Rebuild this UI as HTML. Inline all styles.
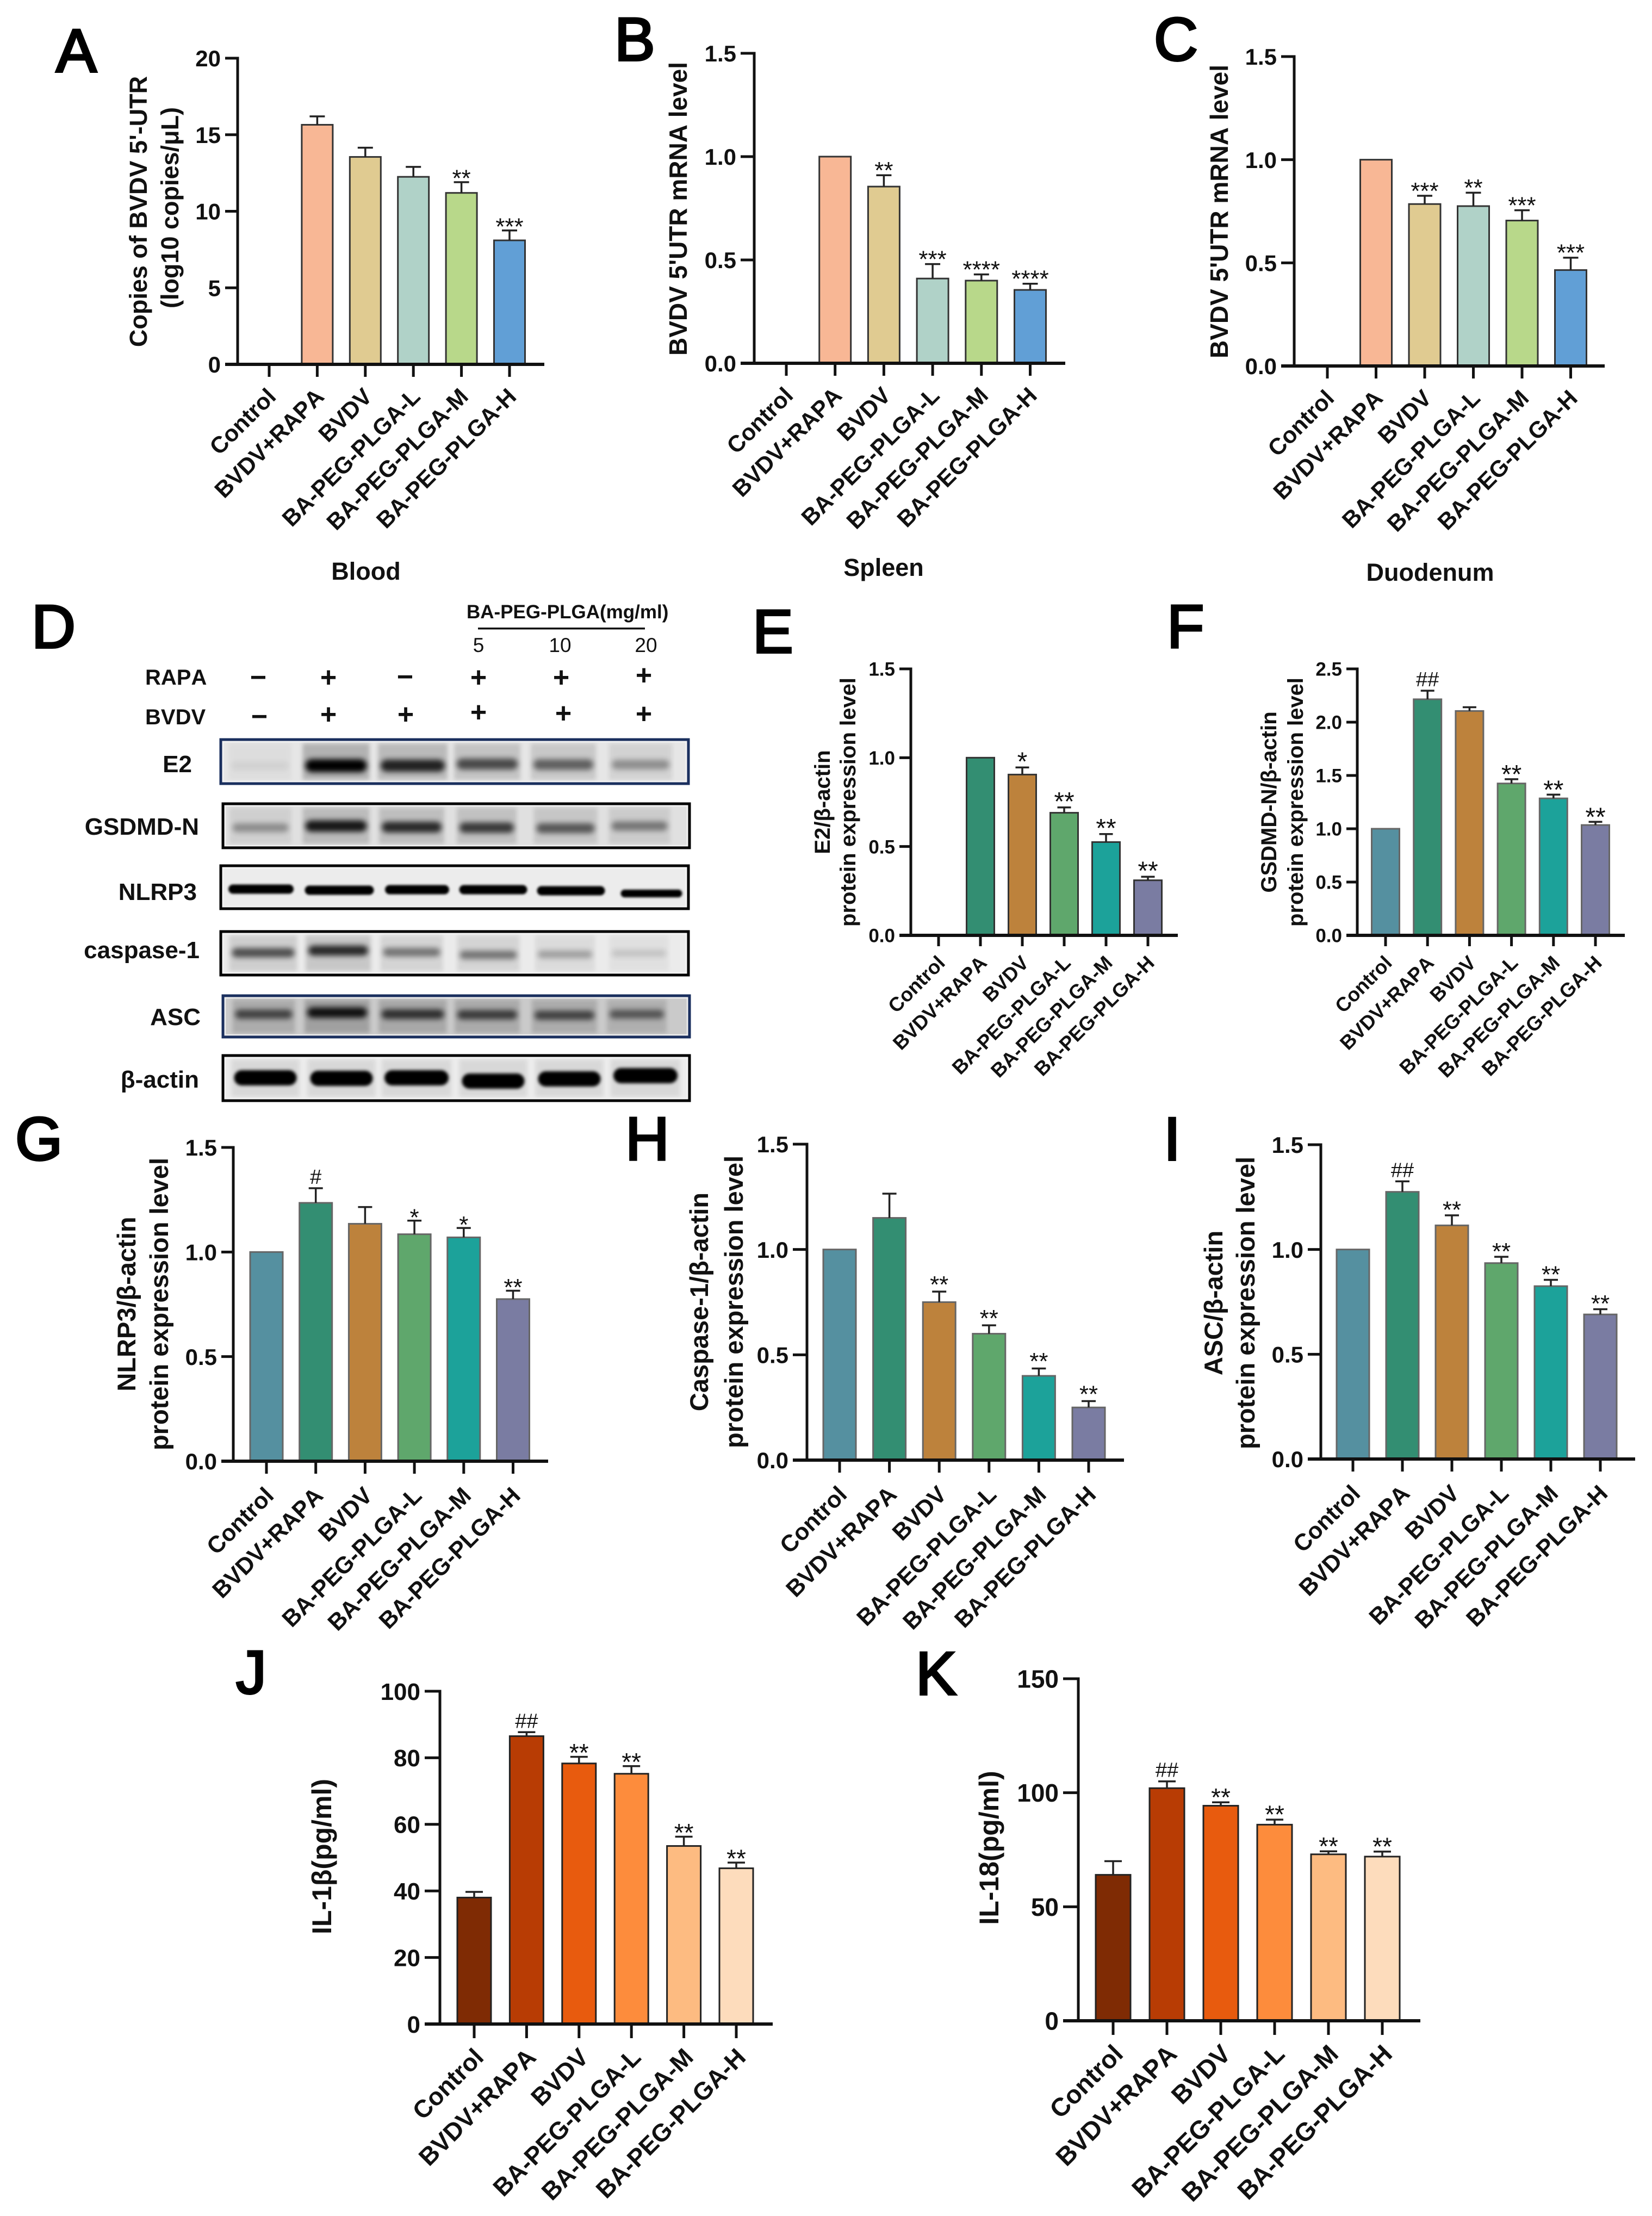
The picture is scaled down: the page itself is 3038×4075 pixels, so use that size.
<!DOCTYPE html>
<html lang="en">
<head>
<meta charset="utf-8">
<title>BA-PEG-PLGA figure panels A-K</title>
<style>
html,body{margin:0;padding:0;background:#fff;}
svg{display:block;}
text{font-family:"Liberation Sans",sans-serif;fill:#111;font-kerning:none;}
.letter{font-size:112px;stroke:#000;stroke-width:4px;fill:#000;}
.ytitle{font-weight:bold;text-anchor:middle;}
.xtitle{font-weight:bold;text-anchor:middle;font-size:45px;}
.blotlabel{font-weight:bold;font-size:44px;text-anchor:end;}
.rowlabel{font-weight:bold;font-size:40px;}
.dose{font-size:37px;text-anchor:middle;}
.sign{font-size:52px;font-weight:bold;text-anchor:middle;}
</style>
</head>
<body>
<svg id="figure" xmlns="http://www.w3.org/2000/svg" width="3038" height="4075" viewBox="0 0 3038 4075">
<defs>
<filter id="b2" x="-20%" y="-150%" width="140%" height="400%"><feGaussianBlur stdDeviation="2"/></filter>
<filter id="b3" x="-20%" y="-150%" width="140%" height="400%"><feGaussianBlur stdDeviation="3"/></filter>
<filter id="b5" x="-20%" y="-150%" width="140%" height="400%"><feGaussianBlur stdDeviation="5"/></filter>
<filter id="soft" x="-20%" y="-20%" width="140%" height="140%"><feGaussianBlur stdDeviation="4"/></filter>
</defs>
<rect width="3038" height="4075" fill="#fff"/>

<g>
<text class="letter" x="103" y="132">A</text>
<text class="letter" x="1130" y="111">B</text>
<text class="letter" x="2122" y="111">C</text>
<text class="letter" x="58" y="1191">D</text>
<text class="letter" x="1384" y="1200">E</text>
<text class="letter" x="2146" y="1191">F</text>
<text class="letter" x="28" y="2133">G</text>
<text class="letter" x="1150" y="2133">H</text>
<text class="letter" x="2140" y="2133">I</text>
<text class="letter" x="434" y="3114">J</text>
<text class="letter" x="1684" y="3116">K</text>
</g>

<g>
<text class="ytitle" font-size="45" transform="translate(270,389) rotate(-90)">Copies of BVDV 5'-UTR</text>
<text class="ytitle" font-size="45" transform="translate(328,382) rotate(-90)">(log10 copies/μL)</text>
<text class="ytitle" font-size="46" transform="translate(1263,384) rotate(-90)">BVDV 5'UTR mRNA level</text>
<text class="ytitle" font-size="46" transform="translate(2258,389) rotate(-90)">BVDV 5'UTR mRNA level</text>
<text class="ytitle" font-size="40" transform="translate(1526,1475) rotate(-90)">E2/β-actin</text>
<text class="ytitle" font-size="40" transform="translate(1573,1475) rotate(-90)">protein expression level</text>
<text class="ytitle" font-size="40" transform="translate(2347,1475) rotate(-90)">GSDMD-N/β-actin</text>
<text class="ytitle" font-size="40" transform="translate(2396,1475) rotate(-90)">protein expression level</text>
<text class="ytitle" font-size="47" transform="translate(249,2398) rotate(-90)">NLRP3/β-actin</text>
<text class="ytitle" font-size="47" transform="translate(309,2398) rotate(-90)">protein expression level</text>
<text class="ytitle" font-size="47" transform="translate(1302,2394) rotate(-90)">Caspase-1/β-actin</text>
<text class="ytitle" font-size="47" transform="translate(1366,2394) rotate(-90)">protein expression level</text>
<text class="ytitle" font-size="47" transform="translate(2248,2396) rotate(-90)">ASC/β-actin</text>
<text class="ytitle" font-size="47" transform="translate(2307,2396) rotate(-90)">protein expression level</text>
<text class="ytitle" font-size="50" transform="translate(609,3414) rotate(-90)">IL-1β(pg/ml)</text>
<text class="ytitle" font-size="50" transform="translate(1836,3398) rotate(-90)">IL-18(pg/ml)</text>
</g>

<g>
<text class="xtitle" x="673" y="1066">Blood</text>
<text class="xtitle" x="1625" y="1059">Spleen</text>
<text class="xtitle" x="2630" y="1068">Duodenum</text>
</g>

<g>
<text x="858" y="1137" font-size="35" font-weight="bold">BA-PEG-PLGA(mg/ml)</text>
<rect x="879" y="1154" width="307" height="3.5" fill="#111"/>
<text class="dose" x="880" y="1199">5</text>
<text class="dose" x="1030" y="1199">10</text>
<text class="dose" x="1188" y="1199">20</text>
<text class="rowlabel" x="267" y="1259">RAPA</text>
<text class="rowlabel" x="267" y="1332">BVDV</text>
<text class="sign" x="475" y="1263">−</text>
<text class="sign" x="604" y="1263">+</text>
<text class="sign" x="745" y="1262">−</text>
<text class="sign" x="880" y="1263">+</text>
<text class="sign" x="1032" y="1263">+</text>
<text class="sign" x="1184" y="1259">+</text>
<text class="sign" x="477" y="1335">−</text>
<text class="sign" x="604" y="1331">+</text>
<text class="sign" x="746" y="1331">+</text>
<text class="sign" x="880" y="1327">+</text>
<text class="sign" x="1036" y="1329">+</text>
<text class="sign" x="1184" y="1330">+</text>
</g>

<g>
<text class="blotlabel" x="353" y="1420">E2</text>
<text class="blotlabel" x="366" y="1535">GSDMD-N</text>
<text class="blotlabel" x="362" y="1655">NLRP3</text>
<text class="blotlabel" x="367" y="1762">caspase-1</text>
<text class="blotlabel" x="369" y="1885">ASC</text>
<text class="blotlabel" x="366" y="2000">β-actin</text>
</g>

<g id="blots"></g>
<g id="charts"></g>
</svg>

<script>
// ---------- chart data ----------
const categories = ['Control','BVDV+RAPA','BVDV','BA-PEG-PLGA-L','BA-PEG-PLGA-M','BA-PEG-PLGA-H'];

const valuesA = [null,15.65,13.55,12.25,11.2,8.1];
const errorsA = [0,0.55,0.6,0.65,0.7,0.65];
const notesA  = ['','','','','**','***'];
const ticksA  = ['0','5','10','15','20'];

const valuesB = [null,1,0.855,0.41,0.40,0.355];
const errorsB = [0,0,0.055,0.07,0.03,0.03];
const notesB  = ['','','**','***','****','****'];
const ticksB  = ['0.0','0.5','1.0','1.5'];

const valuesC = [null,1,0.785,0.775,0.705,0.465];
const errorsC = [0,0,0.04,0.065,0.05,0.06];
const notesC  = ['','','***','**','***','***'];
const ticksC  = ['0.0','0.5','1.0','1.5'];

const valuesE = [null,1,0.905,0.69,0.525,0.31];
const errorsE = [0,0,0.04,0.03,0.045,0.02];
const notesE  = ['','','*','**','**','**'];
const ticksE  = ['0.0','0.5','1.0','1.5'];

const valuesF = [1,2.215,2.105,1.425,1.285,1.035];
const errorsF = [0,0.08,0.035,0.04,0.035,0.03];
const notesF  = ['','##','','**','**','**'];
const ticksF  = ['0.0','0.5','1.0','1.5','2.0','2.5'];

const valuesG = [1,1.235,1.135,1.085,1.07,0.775];
const errorsG = [0,0.07,0.08,0.065,0.045,0.04];
const notesG  = ['','#','','*','*','**'];
const ticksG  = ['0.0','0.5','1.0','1.5'];

const valuesH = [1,1.15,0.75,0.6,0.4,0.25];
const errorsH = [0,0.115,0.05,0.04,0.035,0.03];
const notesH  = ['','','**','**','**','**'];
const ticksH  = ['0.0','0.5','1.0','1.5'];

const valuesI = [1,1.275,1.115,0.935,0.825,0.69];
const errorsI = [0,0.05,0.048,0.03,0.03,0.025];
const notesI  = ['','##','**','**','**','**'];
const ticksI  = ['0.0','0.5','1.0','1.5'];

const valuesJ = [38,86.5,78.3,75.2,53.5,46.8];
const errorsJ = [1.7,1.2,2,2.3,2.8,1.7];
const notesJ  = ['','##','**','**','**','**'];
const ticksJ  = ['0','20','40','60','80','100'];

const valuesK = [64,102,94.3,86,73,72];
const errorsK = [6,3,1.5,2.2,1.3,2.2];
const notesK  = ['','##','**','**','**','**'];
const ticksK  = ['0','50','100','150'];

// band strength per lane, 0 to 1
const bandsE2     = [0.05,1,0.82,0.62,0.52,0.32];
const bandsGsdmd  = [0.32,0.88,0.78,0.7,0.56,0.42];
const bandsNlrp3  = [1,1,1,1,1,0.6];
const bandsCasp   = [0.62,0.8,0.46,0.45,0.27,0.13];
const bandsAsc    = [0.62,0.9,0.72,0.66,0.62,0.52];
const bandsActin  = [1,1,1,1,1,1];

// ---------- styling and layout (not data) ----------
const paletteBlue = ['#cccccc','#f8b795','#e0cb91','#b0d2c8','#b8d88a','#619fd6'];
const paletteTeal = ['#5590a0','#338e72','#bd823c','#5fa76c','#1ca29a','#7a7ca2'];
const paletteFire = ['#7f2b04','#b83c04','#e85b0e','#fd8c3c','#fdbb81','#fddcbc'];

const panels = [
 {id:'a',values:valuesA,errors:errorsA,notes:notesA,ticks:ticksA,palette:paletteBlue,axisX:437,axisY:670,topY:107,firstX:495,step:88.4,barW:57,left:414,right:1001,tickLen:23,fTick:42,fCat:42.5,fNote:44,gap:9,capW:28,dx:15,dy:62,edge:'#333'},
 {id:'b',values:valuesB,errors:errorsB,notes:notesB,ticks:ticksB,palette:paletteBlue,axisX:1387,axisY:668,topY:98,firstX:1446,step:89.7,barW:58,left:1362,right:1959,tickLen:23,fTick:42,fCat:42.5,fNote:44,gap:11,capW:28,dx:15,dy:62,edge:'#333'},
 {id:'c',values:valuesC,errors:errorsC,notes:notesC,ticks:ticksC,palette:paletteBlue,axisX:2380,axisY:673,topY:104,firstX:2441,step:89.5,barW:58,left:2356,right:2951,tickLen:23,fTick:42,fCat:42.5,fNote:44,gap:11,capW:28,dx:15,dy:62,edge:'#333'},
 {id:'e',values:valuesE,errors:errorsE,notes:notesE,ticks:ticksE,palette:paletteTeal,axisX:1675,axisY:1720,topY:1230,firstX:1726,step:77,barW:51,left:1654,right:2166,tickLen:20,fTick:35,fCat:36.5,fNote:48,gap:13,capW:25,dx:14,dy:53,edge:'#333'},
 {id:'f',values:valuesF,errors:errorsF,notes:notesF,ticks:ticksF,palette:paletteTeal,axisX:2496,axisY:1720,topY:1230,firstX:2548,step:77.2,barW:51,left:2476,right:2988,tickLen:20,fTick:35,fCat:36.5,fNote:48,gap:11,capW:25,dx:14,dy:53,edge:'#666'},
 {id:'g',values:valuesG,errors:errorsG,notes:notesG,ticks:ticksG,palette:paletteTeal,axisX:429,axisY:2687,topY:2110,firstX:490,step:90.7,barW:60,left:407,right:1008,tickLen:23,fTick:42,fCat:43,fNote:44,gap:8,capW:26,dx:16,dy:66,edge:'#666'},
 {id:'h',values:valuesH,errors:errorsH,notes:notesH,ticks:ticksH,palette:paletteTeal,axisX:1484,axisY:2685,topY:2104,firstX:1544,step:91.6,barW:60,left:1458,right:2067,tickLen:23,fTick:42,fCat:43,fNote:44,gap:15,capW:26,dx:16,dy:66,edge:'#666'},
 {id:'i',values:valuesI,errors:errorsI,notes:notesI,ticks:ticksI,palette:paletteTeal,axisX:2429,axisY:2683,topY:2105,firstX:2488,step:91,barW:60,left:2405,right:3007,tickLen:23,fTick:42,fCat:43,fNote:44,gap:12,capW:26,dx:16,dy:66,edge:'#666'},
 {id:'j',values:valuesJ,errors:errorsJ,notes:notesJ,ticks:ticksJ,palette:paletteFire,axisX:809,axisY:3722,topY:3110,firstX:872,step:96.4,barW:62,left:781,right:1421,tickLen:26,fTick:44,fCat:45.5,fNote:46,gap:9,capW:32,dx:20,dy:64,edge:'#222'},
 {id:'k',values:valuesK,errors:errorsK,notes:notesK,ticks:ticksK,palette:paletteFire,axisX:1983,axisY:3716,topY:3087,firstX:2047,step:99,barW:64,left:1955,right:2612,tickLen:26,fTick:46,fCat:47,fNote:46,gap:11,capW:32,dx:21,dy:64,edge:'#222'}
];

const blotRows = [
 {id:'e2',bands:bandsE2,x0:404,x1:1268,y0:1358,y1:1443,bg:'#e6e6e6',border:'#1a2f5e',bandH:24,blur:'b5',tint:0.2,lanes:[478,618,759,896,1036,1178],widths:[106,113,118,112,110,106],ys:[1408,1408,1408,1405,1406,1406]},
 {id:'gsdmd-n',bands:bandsGsdmd,x0:408,x1:1270,y0:1476,y1:1561,bg:'#e0e0e0',border:'#000',bandH:22,blur:'b5',tint:0.16,lanes:[479,618,757,895,1040,1176],widths:[103,113,110,100,107,103],ys:[1522,1519,1521,1522,1523,1519]},
 {id:'nlrp3',bands:bandsNlrp3,x0:404,x1:1268,y0:1590,y1:1673,bg:'#ececec',border:'#000',bandH:17,blur:'b2',tint:0,lanes:[480,624,767,907,1050,1198],widths:[120,127,118,125,125,113],ys:[1635,1637,1636,1636,1638,1643]},
 {id:'caspase-1',bands:bandsCasp,x0:404,x1:1268,y0:1711,y1:1795,bg:'#ebebeb',border:'#000',bandH:20,blur:'b5',tint:0.16,lanes:[484,622,757,898,1039,1175],widths:[115,110,105,105,100,100],ys:[1752,1748,1751,1756,1755,1753]},
 {id:'asc',bands:bandsAsc,x0:408,x1:1270,y0:1829,y1:1909,bg:'#cacaca',border:'#1a2f5e',bandH:20,blur:'b5',tint:0.2,lanes:[485,620,759,896,1038,1171],widths:[105,110,115,110,110,100],ys:[1865,1862,1865,1866,1867,1865]},
 {id:'beta-actin',bands:bandsActin,x0:408,x1:1270,y0:1939,y1:2026,bg:'#ececec',border:'#000',bandH:28,blur:'b3',tint:0.06,lanes:[488,628,766,907,1047,1187],widths:[115,115,118,115,115,118],ys:[1982,1983,1982,1988,1984,1978]}
];

const NS = 'http://www.w3.org/2000/svg';
function mk(tag, parent, attrs){
  const e = document.createElementNS(NS, tag);
  for (const k in attrs) e.setAttribute(k, attrs[k]);
  parent.appendChild(e);
  return e;
}

// ---------- western blots ----------
const blotRoot = document.getElementById('blots');
blotRows.forEach(function(row){
  const g = mk('g', blotRoot, {});
  
  
  const w = row.x1 - row.x0, h = row.y1 - row.y0;
  const bgRect = mk('rect', g, {x:row.x0, y:row.y0, width:w, height:h, fill:row.bg});
  
  
  row.lanes.forEach(function(cx, i){
    const laneW = row.widths[i] + 10;
    if (row.tint > 0) {
      const tint = mk('rect', g, {x:cx - laneW/2, y:row.y0 + 9, width:laneW, height:h - 18, fill:'#000', opacity:row.tint * row.bands[i] + 0.02, filter:'url(#soft)'});
      
      
    }
    const bh = row.bandH * (0.6 + 0.4 * row.bands[i]);
    const strength = row.id === 'nlrp3' ? 1 : row.bands[i];
    const band = mk('rect', g, {x:cx - row.widths[i]/2, y:row.ys[i] - bh/2, width:row.widths[i], height:bh, rx:bh/2, fill:'#000', opacity:strength, filter:'url(#' + row.blur + ')'});
    
    
  });
  const glow = mk('rect', g, {x:row.x0 + 6, y:row.y0 + 6, width:w - 12, height:h - 12, fill:'none', stroke:'#f6f6f6', 'stroke-width':2.5, opacity:0.8});
  
  
  const frame = mk('rect', g, {x:row.x0 + 2, y:row.y0 + 2, width:w - 4, height:h - 4, fill:'none', stroke:row.border, 'stroke-width':5});
  
  
});

// ---------- bar charts ----------
const chartRoot = document.getElementById('charts');
panels.forEach(function(p){
  const g = mk('g', chartRoot, {});
  
  

  const maxTick = parseFloat(p.ticks[p.ticks.length - 1]);
  const yScale = function(v){ return p.axisY - (v / maxTick) * (p.axisY - p.topY); };
  const xScale = function(i){ return p.firstX + i * p.step; };

  // bars, error bars, significance marks
  p.values.forEach(function(v, i){
    if (v === null) return;
    const cx = xScale(i), top = yScale(v);
    const bar = mk('rect', g, {x:cx - p.barW/2, y:top, width:p.barW, height:p.axisY - top, fill:p.palette[i], stroke:p.edge, 'stroke-width':3});
    
    
    let markTop = top;
    if (p.errors[i] > 0) {
      markTop = yScale(v + p.errors[i]);
      const stem = mk('line', g, {x1:cx, x2:cx, y1:top, y2:markTop, stroke:'#222', 'stroke-width':3.5});
      
      
      const cap = mk('line', g, {x1:cx - p.capW/2, x2:cx + p.capW/2, y1:markTop, y2:markTop, stroke:'#222', 'stroke-width':3.5});
      
      
    }
    if (p.notes[i]) {
      const isHash = p.notes[i].charAt(0) === '#';
      const base = isHash ? markTop - 8 : markTop - p.gap + p.fNote * 0.38;
      const note = mk('text', g, {x:cx, y:base, 'text-anchor':'middle', 'font-size':isHash ? 38 : p.fNote});
      
      
      note.textContent = p.notes[i];
    }
  });

  // y axis
  const yAxis = mk('line', g, {x1:p.axisX, x2:p.axisX, y1:p.topY - 2.5, y2:p.axisY + 2.5, stroke:'#111', 'stroke-width':5});
  
  
  p.ticks.forEach(function(label){
    const ty = yScale(parseFloat(label));
    const tick = mk('line', g, {x1:p.left, x2:p.axisX, y1:ty, y2:ty, stroke:'#111', 'stroke-width':5});
    
    
    const txt = mk('text', g, {x:p.left - 8, y:ty + p.fTick * 0.36, 'text-anchor':'end', 'font-size':p.fTick, 'font-weight':'bold'});
    
    
    txt.textContent = label;
  });

  // x axis
  const xAxis = mk('line', g, {x1:p.left, x2:p.right, y1:p.axisY, y2:p.axisY, stroke:'#111', 'stroke-width':6});
  
  
  categories.forEach(function(name, i){
    const cx = xScale(i);
    const tick = mk('line', g, {x1:cx, x2:cx, y1:p.axisY, y2:p.axisY + p.tickLen, stroke:'#111', 'stroke-width':5});
    
    
    const txt = mk('text', g, {'text-anchor':'end', 'font-size':p.fCat, 'font-weight':'bold', transform:'translate(' + (cx + p.dx) + ',' + (p.axisY + p.dy) + ') rotate(-45)'});
    
    
    txt.textContent = name;
  });
});
</script>
</body>
</html>
